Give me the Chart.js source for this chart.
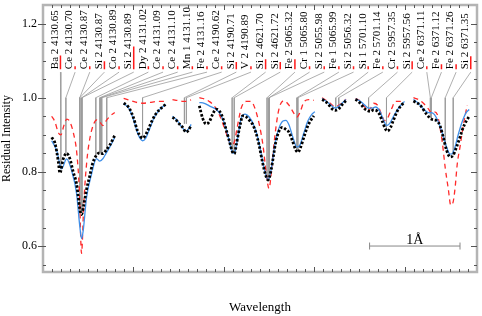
<!DOCTYPE html>
<html>
<head>
<meta charset="utf-8">
<script src="https://cdn.jsdelivr.net/npm/chart.js@4.4.0/dist/chart.umd.min.js"></script>
<style>
  html, body { margin: 0; padding: 0; background: #fff; }
</style>
</head>
<body>
<canvas id="spectrum" width="482" height="316"></canvas>
<script>
'use strict';

// stitched wavelength windows, x in Angstrom offsets, null = gap between windows
var obsX = [0.096, 0.132, 0.168, 0.187, 0.224, 0.261, 0.297, 0.334, 0.371, 0.389, 0.407, 0.426, 0.452, 0.481, 0.518, 0.547, 0.591, 0.628, 0.664, 0.702, 0.738, 0.793, null,
    0.892, 0.925, 0.958, 1.002, 1.046, 1.079, 1.101, 1.123, 1.156, 1.200, 1.244, 1.289, 1.322, 1.355, null,
    1.432, 1.472, 1.509, 1.545, 1.583, 1.608, 1.638, null,
    1.729, 1.765, 1.803, 1.839, 1.876, 1.913, 1.949, 1.986, 2.023, 2.059, 2.096, 2.115, 2.140, 2.162, 2.188, 2.206, 2.243, 2.280, 2.316, 2.353,
    2.390, 2.426, 2.464, 2.489, 2.519, 2.547, 2.574, 2.610, 2.646, 2.684, 2.720, 2.757, 2.794, 2.819, 2.849, 2.885, 2.922, 2.959, 2.996, null,
    3.087, 3.124, 3.161, 3.197, 3.234, 3.271, 3.307, 3.351, null,
    3.455, 3.491, 3.524, 3.558, 3.591, 3.624, 3.656, 3.690, 3.722, 3.755, 3.789, 3.811, 3.844, 3.877, 3.921, 3.965, 3.998, null,
    4.097, 4.171, 4.243, 4.298, 4.353, 4.390, 4.427, 4.464, 4.503, 4.537, 4.574, 4.611, 4.648, 4.684, 4.714];
var obsY = [0.893, 0.878, 0.83, 0.797, 0.835, 0.85, 0.836, 0.80, 0.768, 0.735, 0.70, 0.685, 0.712, 0.752, 0.79, 0.821, 0.845, 0.851, 0.849, 0.86, 0.872, 0.898, null,
    0.985, 0.98, 0.97, 0.945, 0.91, 0.895, 0.891, 0.895, 0.91, 0.935, 0.955, 0.968, 0.975, 0.982, null,
    0.947, 0.94, 0.929, 0.92, 0.907, 0.912, 0.925, null,
    0.978, 0.945, 0.929, 0.935, 0.955, 0.969, 0.965, 0.947, 0.916, 0.885, 0.853, 0.849, 0.875, 0.905, 0.935, 0.951, 0.949, 0.94, 0.929, 0.907,
    0.872, 0.828, 0.79, 0.778, 0.80, 0.84, 0.88, 0.91, 0.92, 0.915, 0.907, 0.885, 0.86, 0.853, 0.866, 0.893, 0.92, 0.938, 0.951, null,
    0.995, 0.99, 0.981, 0.97, 0.966, 0.97, 0.981, 0.992, null,
    0.995, 0.99, 0.98, 0.97, 0.965, 0.963, 0.967, 0.965, 0.955, 0.935, 0.915, 0.91, 0.92, 0.94, 0.965, 0.98, 0.988, null,
    0.991, 0.98, 0.955, 0.942, 0.938, 0.925, 0.893, 0.858, 0.84, 0.845, 0.867, 0.893, 0.92, 0.938, 0.95];

// best fit (blue)
var fitX = [0.096, 0.151, 0.206, 0.261, 0.316, 0.371, 0.407, 0.426, 0.444, 0.481, 0.536, 0.591, 0.628, 0.664, 0.702, 0.746, 0.793, null,
    0.892, 0.958, 1.002, 1.046, 1.079, 1.101, 1.134, 1.178, 1.233, 1.289, 1.355, null,
    1.432, 1.472, 1.509, 1.545, 1.583, 1.608, 1.638, null,
    1.729, 1.784, 1.839, 1.905, 1.949, 1.993, 2.037, 2.070, 2.103, 2.126, 2.159, 2.192, 2.236, 2.280, 2.324, 2.368,
    2.412, 2.456, 2.489, 2.522, 2.566, 2.610, 2.654, 2.687, 2.720, 2.764, 2.808, 2.841, 2.885, 2.929, 2.973, 3.007, null,
    3.087, 3.161, 3.234, 3.307, 3.351, null,
    3.458, 3.513, 3.558, 3.602, 3.635, 3.679, 3.722, 3.766, 3.799, 3.833, 3.877, 3.932, 3.998, null,
    4.097, 4.152, 4.207, 4.262, 4.295, 4.328, 4.372, 4.416, 4.460, 4.493, 4.515, 4.548, 4.592, 4.636, 4.680, 4.714];
var fitY = [0.884, 0.858, 0.808, 0.835, 0.804, 0.742, 0.653, 0.62, 0.64, 0.73, 0.793, 0.836, 0.829, 0.836, 0.852, 0.87, 0.893, null,
    0.985, 0.968, 0.94, 0.905, 0.888, 0.884, 0.89, 0.915, 0.948, 0.968, 0.982, null,
    0.95, 0.942, 0.93, 0.918, 0.91, 0.915, 0.928, null,
    0.987, 0.985, 0.978, 0.97, 0.96, 0.94, 0.905, 0.872, 0.85, 0.857, 0.9, 0.945, 0.956, 0.948, 0.93, 0.9,
    0.85, 0.8, 0.778, 0.805, 0.875, 0.918, 0.937, 0.939, 0.927, 0.893, 0.867, 0.872, 0.905, 0.937, 0.955, 0.962, null,
    0.998, 0.985, 0.972, 0.985, 0.995, null,
    0.997, 0.99, 0.98, 0.972, 0.972, 0.975, 0.965, 0.94, 0.925, 0.93, 0.95, 0.972, 0.99, null,
    0.995, 0.985, 0.97, 0.96, 0.96, 0.955, 0.935, 0.905, 0.87, 0.85, 0.848, 0.86, 0.9, 0.935, 0.96, 0.968];

// synthetic spectrum (red dashed)
var synX = [0.096, 0.132, 0.171, 0.198, 0.231, 0.264, 0.297, 0.341, 0.374, 0.402, 0.426, 0.452, 0.485, 0.518, 0.562, 0.595, 0.628, 0.661, 0.705, 0.749, 0.793, null,
    0.892, 0.958, 1.024, 1.101, 1.178, 1.266, 1.355, null,
    1.432, 1.472, 1.509, 1.545, 1.583, 1.608, 1.638, null,
    1.729, 1.784, 1.839, 1.894, 1.949, 2.004, 2.048, 2.081, 2.115, 2.148, 2.192, 2.247, 2.302, 2.346, 2.390,
    2.434, 2.467, 2.500, 2.533, 2.566, 2.610, 2.665, 2.720, 2.775, 2.808, 2.841, 2.885, 2.940, 2.996, null,
    3.087, 3.161, 3.234, 3.307, 3.351, null,
    3.458, 3.513, 3.558, 3.591, 3.624, 3.656, 3.700, 3.744, 3.777, 3.811, 3.855, 3.899, 3.943, 3.987, null,
    4.097, 4.152, 4.207, 4.262, 4.295, 4.328, 4.361, 4.383, 4.416, 4.449, 4.482, 4.510, 4.537, 4.559, 4.581, 4.614, 4.648, 4.692];
var synY = [0.95, 0.935, 0.905, 0.9, 0.925, 0.942, 0.935, 0.90, 0.85, 0.75, 0.58, 0.72, 0.83, 0.89, 0.93, 0.94, 0.935, 0.925, 0.94, 0.952, 0.96, null,
    0.998, 0.993, 0.988, 0.985, 0.987, 0.99, 0.99, null,
    0.995, 0.993, 0.992, 0.99, 0.99, 0.992, 0.994, null,
    1.0, 0.997, 0.99, 0.978, 0.955, 0.92, 0.89, 0.872, 0.88, 0.92, 0.972, 0.99, 0.99, 0.97, 0.93,
    0.87, 0.80, 0.755, 0.82, 0.9, 0.97, 0.992, 0.98, 0.958, 0.948, 0.96, 0.988, 0.995, 0.993, null,
    1.0, 0.988, 0.976, 0.986, 0.996, null,
    0.998, 0.99, 0.975, 0.965, 0.972, 0.985, 0.98, 0.955, 0.938, 0.945, 0.97, 0.99, 0.99, 0.992, null,
    1.0, 0.995, 0.985, 0.97, 0.96, 0.962, 0.955, 0.93, 0.88, 0.81, 0.755, 0.71, 0.72, 0.76, 0.82, 0.87, 0.925, 0.98];

// line identifications
var lineNames = ['Ba 2 4130.65', 'Ce 2 4130.70', 'Ce 2 4130.87', 'Si 2 4130.87', 'Co 2 4130.89', 'Si 2 4130.89',
    'Dy 2 4131.02', 'Ce 2 4131.09', 'Ce 2 4131.10', 'Mn 1 4131.10', 'Fe 2 4131.16', 'Ce 2 4190.62', 'Si 2 4190.71',
    'V 2 4190.89', 'Si 2 4621.70', 'Si 2 4621.72', 'Fe 2 5065.32', 'Cr 1 5065.80', 'Si 2 5055.98', 'Fe 1 5065.99',
    'Si 2 5056.32', 'Si 1 5701.10', 'Fe 2 5701.14', 'Cr 2 5957.35', 'Si 2 5957.56', 'Ce 2 6371.11', 'Fe 2 6371.12',
    'Fe 2 6371.26', 'Si 2 6371.35'];
var lineX = [0.198, 0.253, 0.407, 0.407, 0.430, 0.430, 0.584, 0.628, 0.639, 0.650, 0.705, 1.101, 1.564, 1.586, 2.092,
    2.115, 2.478, 2.500, 2.500, 2.808, 2.819, 3.238, 3.271, 3.601, 3.799, 4.284, 4.295, 4.449, 4.537];
var lineFlux = [0.808, 0.848, 0.69, 0.69, 0.69, 0.69, 0.84, 0.85, 0.85, 0.85, 0.86, 0.893, 0.93, 0.93, 0.853, 0.85,
    0.78, 0.78, 0.78, 0.86, 0.855, 0.968, 0.97, 0.965, 0.915, 0.945, 0.945, 0.87, 0.845];
var lineStrength = [0.037, 0.008, 0.008, 0.021, 0.008, 0.061, 0.008, 0.008, 0.008, 0.008, 0.008, 0.008, 0.019, 0.008,
    0.027, 0.019, 0.027, 0.008, 0.008, 0.008, 0.008, 0.008, 0.008, 0.008, 0.021, 0.008, 0.013, 0.013, 0.035];

var yTicks = [0.6, 0.8, 1.0, 1.2];
var scaleBar = [3.612, 4.612];   // 1 Angstrom
var scaleBarY = 0.6;

var labelFirst = 0.132, labelLast = 4.670;   // label slots along the top
var labelBase = 1.077, leaderTop = 1.069, knee = 1.0;

function slotX(i) {
    return labelFirst + i * (labelLast - labelFirst) / (lineNames.length - 1);
}

function toPoints(xs, ys) {
    var pts = [];
    for (var i = 0; i < xs.length; i++) {
        if (xs[i] === null) {
            pts.push({x: xs[i - 1], y: null});
        } else {
            pts.push({x: xs[i], y: ys[i]});
        }
    }
    return pts;
}

var leaderPts = [], strengthPts = [];
lineNames.forEach(function (name, i) {
    var sx = slotX(i) + 0.061;
    leaderPts.push({x: sx, y: leaderTop}, {x: lineX[i], y: knee}, {x: lineX[i], y: lineFlux[i]}, {x: lineX[i], y: null});
    strengthPts.push({x: sx, y: labelBase}, {x: sx, y: labelBase + lineStrength[i]}, {x: sx, y: null});
});

var serif = 'Liberation Serif';

var labelsPlugin = {
    id: 'lineLabels',
    afterDatasetsDraw: function (chart) {
        var ctx = chart.ctx, xs = chart.scales.x, ys = chart.scales.y;
        ctx.save();
        ctx.font = '11px "' + serif + '"';
        ctx.fillStyle = '#000';
        ctx.textAlign = 'left';
        ctx.textBaseline = 'middle';
        var base = ys.getPixelForValue(labelBase);
        lineNames.forEach(function (name, i) {
            ctx.save();
            ctx.translate(xs.getPixelForValue(slotX(i)), base);
            ctx.rotate(-Math.PI / 2);
            ctx.fillText(name, 0, 0);
            ctx.restore();
        });
        // caption of the scale bar
        ctx.font = '14px "' + serif + '"';
        ctx.textAlign = 'center';
        ctx.textBaseline = 'alphabetic';
        ctx.fillText('1Å', xs.getPixelForValue((scaleBar[0] + scaleBar[1]) / 2), ys.getPixelForValue(scaleBarY) - 2);
        ctx.restore();
    }
};

var framePlugin = {
    id: 'frame',
    afterDraw: function (chart) {
        var ctx = chart.ctx, a = chart.chartArea, xs = chart.scales.x, ys = chart.scales.y;
        ctx.save();
        ctx.strokeStyle = '#b4b4b4';
        ctx.lineWidth = 2.5;
        ctx.strokeRect(a.left, a.top, a.right - a.left, a.bottom - a.top);
        ctx.strokeStyle = '#555';
        ctx.lineWidth = 1;
        ctx.beginPath();
        for (var k = 1; k < 48; k++) {
            var px = Math.round(xs.getPixelForValue(k / 10)) + 0.5;
            var len = k % 10 === 0 ? 5 : 3;
            ctx.moveTo(px, a.bottom);
            ctx.lineTo(px, a.bottom - len);
            ctx.moveTo(px, a.top);
            ctx.lineTo(px, a.top + len);
        }
        for (var m = 11; m <= 24; m++) {
            var py = Math.round(ys.getPixelForValue(m * 0.05)) + 0.5;
            var major = m % 4 === 0;
            ctx.moveTo(a.left - (major ? 5 : 0), py);
            ctx.lineTo(a.left + 3, py);
            ctx.moveTo(a.right, py);
            ctx.lineTo(a.right - (major ? 6 : 3), py);
        }
        ctx.stroke();
        ctx.restore();
    }
};

var ctx = document.getElementById('spectrum').getContext('2d');
var chart = new Chart(ctx, {
    type: 'line',
    data: {
        datasets: [{
            label: 'Observed',
            data: toPoints(obsX, obsY),
            borderColor: '#000',
            borderWidth: 2.8,
            borderDash: [2.4, 1.8],
            pointRadius: 0,
            cubicInterpolationMode: 'monotone',
            order: 1
        },
        {
            label: 'Fit',
            data: toPoints(fitX, fitY),
            borderColor: '#3f8fe8',
            borderWidth: 1.3,
            pointRadius: 0,
            cubicInterpolationMode: 'monotone',
            order: 2
        },
        {
            label: 'Synthetic',
            data: toPoints(synX, synY),
            borderColor: '#ff2a2a',
            borderWidth: 1.3,
            borderDash: [5, 4],
            pointRadius: 0,
            cubicInterpolationMode: 'monotone',
            order: 3
        },
        {
            label: 'Leaders',
            data: leaderPts,
            borderColor: '#9a9a9a',
            borderWidth: 0.8,
            pointRadius: 0,
            order: 5
        },
        {
            label: 'Strength',
            data: strengthPts,
            borderColor: '#ff1a1a',
            borderWidth: 1.5,
            pointRadius: 0,
            order: 4
        },
        {
            label: 'Scale',
            data: [{x: scaleBar[0], y: scaleBarY}, {x: scaleBar[1], y: scaleBarY}],
            borderColor: '#888',
            borderWidth: 1,
            pointStyle: 'line',
            pointRotation: 90,
            pointRadius: 3.5,
            pointBorderColor: '#888',
            pointBorderWidth: 1,
            order: 4
        }]
    },
    options: {
        responsive: false,
        animation: false,
        devicePixelRatio: 1,
        layout: {padding: {top: 2, right: 3, left: 0, bottom: 0}},
        plugins: {
            legend: {display: false},
            tooltip: {enabled: false}
        },
        scales: {
            x: {
                type: 'linear',
                min: 0,
                max: 4.8,
                grid: {display: false, drawTicks: false},
                border: {display: false},
                ticks: {display: false},
                afterFit: function (s) {
                    s.height = 44;
                    s.paddingLeft = 0;
                    s.paddingRight = 0;
                },
                title: {
                    display: true,
                    text: 'Wavelength',
                    color: '#000',
                    font: {family: serif, size: 13},
                    padding: {top: 0, bottom: 1}
                }
            },
            y: {
                type: 'linear',
                min: 0.53,
                max: 1.25,
                grid: {display: false, drawTicks: false},
                border: {display: false},
                afterBuildTicks: function (s) {
                    s.ticks = yTicks.map(function (v) { return {value: v}; });
                },
                ticks: {
                    padding: 6,
                    color: '#000',
                    font: {family: serif, size: 12},
                    callback: function (v) { return v.toFixed(1); }
                },
                afterFit: function (s) {
                    s.width = 43;
                    s.paddingTop = 0;
                    s.paddingBottom = 0;
                },
                title: {
                    display: true,
                    text: 'Residual Intensity',
                    color: '#000',
                    font: {family: serif, size: 12},
                    padding: {top: 0, bottom: 0}
                }
            }
        }
    },
    plugins: [labelsPlugin, framePlugin]
});
</script>
</body>
</html>
